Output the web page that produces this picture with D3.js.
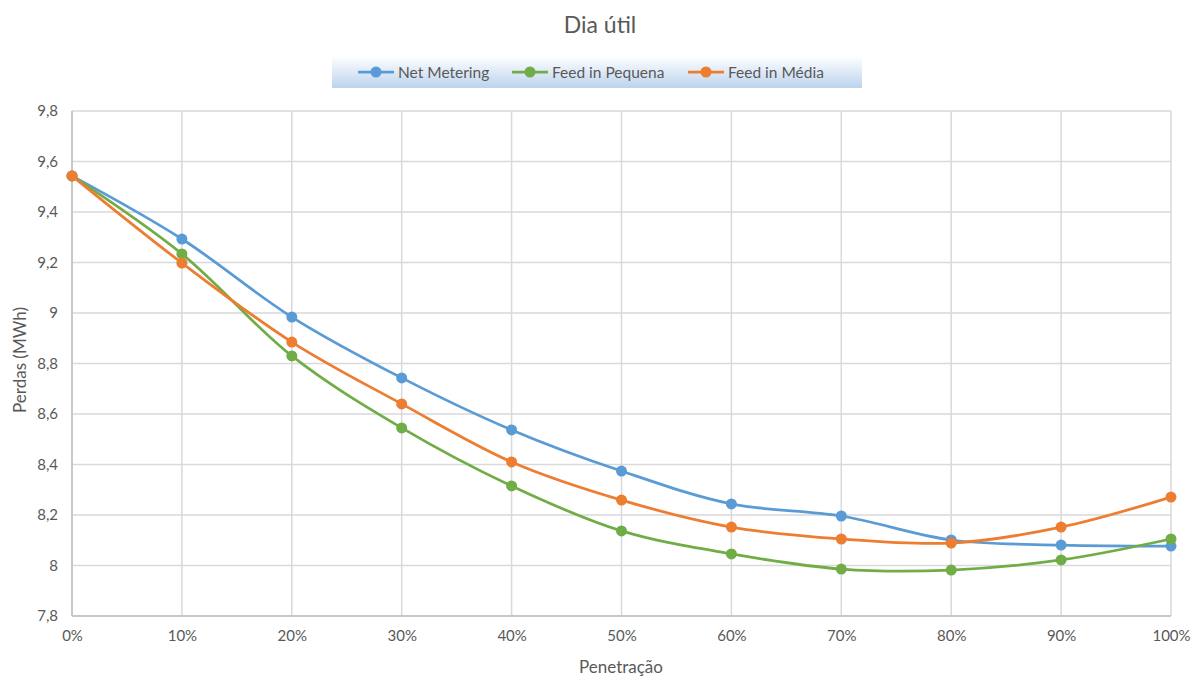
<!DOCTYPE html>
<html><head><meta charset="utf-8">
<script src="https://cdn.jsdelivr.net/npm/d3@7"></script>
<style>body{margin:0;background:#fff}svg{display:block;font-family:Lato,"Open Sans",sans-serif}</style>
</head><body><svg id="c" width="1191" height="677"></svg>
<script>
const categories = ["0%","10%","20%","30%","40%","50%","60%","70%","80%","90%","100%"];
const netMetering = [9.543,9.293,8.984,8.743,8.537,8.374,8.244,8.196,8.101,8.081,8.077];
const feedPequena = [9.543,9.234,8.830,8.545,8.315,8.137,8.046,7.986,7.982,8.022,8.105];
const feedMedia   = [9.543,9.198,8.885,8.640,8.410,8.259,8.152,8.105,8.089,8.152,8.271];
const yTicks = [7.8,8,8.2,8.4,8.6,8.8,9,9.2,9.4,9.6,9.8];
const seriesNames = ["Net Metering","Feed in Pequena","Feed in Média"];
const seriesColors = ["#5b9bd5","#70ad47","#ed7d31"];
const series = [netMetering, feedPequena, feedMedia];

const svg = d3.select("#c");
const L=72, R=1171, T=111, B=616;
const x = d3.scalePoint().domain(categories).range([L,R]);
const y = d3.scaleLinear().domain([7.8,9.8]).range([B,T]);
const fmt = v => String(v).replace(".",",");
const txt = "#595959";

// gridlines
svg.append("g").selectAll("line").data(yTicks).join("line")
  .attr("x1",L).attr("x2",R).attr("y1",d=>y(d)).attr("y2",d=>y(d))
  .attr("stroke","#d9d9d9").attr("stroke-width",1.5);
svg.append("g").selectAll("line").data(categories).join("line")
  .attr("x1",d=>x(d)).attr("x2",d=>x(d)).attr("y1",T).attr("y2",B)
  .attr("stroke","#d9d9d9").attr("stroke-width",1.5);
// axis lines
svg.append("line").attr("x1",L).attr("x2",R).attr("y1",B).attr("y2",B).attr("stroke","#bfbfbf").attr("stroke-width",1.5);
svg.append("line").attr("x1",L).attr("x2",L).attr("y1",T).attr("y2",B).attr("stroke","#bfbfbf").attr("stroke-width",1.5);

// axes via d3
const ya = svg.append("g").attr("transform",`translate(${L},0)`)
  .call(d3.axisLeft(y).tickValues(yTicks).tickFormat(fmt).tickSize(0).tickPadding(14));
ya.select(".domain").remove();
ya.selectAll("text").attr("fill",txt).attr("font-size",15).style("font-family","Lato,'Open Sans',sans-serif");
const xa = svg.append("g").attr("transform",`translate(0,${B})`)
  .call(d3.axisBottom(x).tickSize(0).tickPadding(14));
xa.select(".domain").remove();
xa.selectAll("text").attr("fill",txt).attr("font-size",15).style("font-family","Lato,'Open Sans',sans-serif");

// titles
svg.append("text").attr("x",600).attr("y",33).attr("text-anchor","middle").attr("fill",txt).attr("font-size",23).text("Dia útil");
svg.append("text").attr("x",621).attr("y",673).attr("text-anchor","middle").attr("fill",txt).attr("font-size",17).text("Penetração");
svg.append("text").attr("transform","translate(26,360) rotate(-90)").attr("text-anchor","middle").attr("fill",txt).attr("font-size",17).text("Perdas (MWh)");

// lines
const line = d3.line().x((d,i)=>x(categories[i])).y(d=>y(d)).curve(d3.curveCatmullRom.alpha(0.5));
series.forEach((s,k)=>{
  svg.append("path").datum(s).attr("d",line).attr("fill","none").attr("stroke",seriesColors[k]).attr("stroke-width",2.75).attr("stroke-linecap","round");
  svg.append("g").selectAll("circle").data(s).join("circle")
    .attr("cx",(d,i)=>x(categories[i])).attr("cy",d=>y(d)).attr("r",5.5).attr("fill",seriesColors[k]);
});

// legend
const defs = svg.append("defs");
const g = defs.append("linearGradient").attr("id","lg").attr("x1",0).attr("x2",0).attr("y1",0).attr("y2",1);
g.append("stop").attr("offset","0%").attr("stop-color","#ffffff");
g.append("stop").attr("offset","100%").attr("stop-color","#bcd3ee");
svg.append("rect").attr("x",332).attr("y",56).attr("width",530).attr("height",32).attr("fill","url(#lg)");
const legX = [358,512,688];
seriesNames.forEach((n,k)=>{
  const lx = legX[k];
  svg.append("line").attr("x1",lx).attr("x2",lx+36).attr("y1",72).attr("y2",72).attr("stroke",seriesColors[k]).attr("stroke-width",2.75);
  svg.append("circle").attr("cx",lx+18).attr("cy",72).attr("r",5.5).attr("fill",seriesColors[k]);
  svg.append("text").attr("x",lx+40).attr("y",78).attr("fill",txt).attr("font-size",15.5).text(n);
});
</script></body></html>
